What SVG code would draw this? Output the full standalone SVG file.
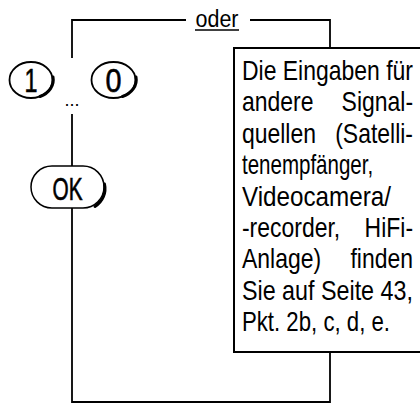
<svg xmlns="http://www.w3.org/2000/svg" width="420" height="405" viewBox="0 0 420 405">
<style>
.ln{fill:none;stroke:#000;stroke-width:1.8}
.t{font-family:"Liberation Sans",Arial,sans-serif;fill:#000}
.key{stroke:#000;stroke-width:0.6}
.box{font-size:28px}
.sh{fill:none;stroke:#000;stroke-width:3;stroke-linecap:round}
</style>
<rect width="420" height="405" fill="#fff"/>
<g id="connectors">
<path class="ln" d="M72,58 V20 H186"/>
<path class="ln" d="M250,20 H330 V48"/>
<path class="ln" d="M72,114 V166"/>
<path class="ln" d="M72,208 V402 H330 V352"/>
</g>
<g id="label-oder">
<text class="t" x="195.5" y="26.5" font-size="23" textLength="43" lengthAdjust="spacingAndGlyphs">oder</text>
<line x1="195" y1="30" x2="239" y2="30" stroke="#000" stroke-width="1.3"/>
</g>
<g id="key-1">
<ellipse class="ln" cx="31" cy="80" rx="21.5" ry="18" stroke-width="1.5"/>
<path class="sh" d="M40,96.5 A21.5,18 0 0 0 53,77"/>
<text class="t key" x="24.5" y="92" font-size="33" textLength="13" lengthAdjust="spacingAndGlyphs">1</text>
</g>
<g id="dots">
<text class="t" x="72" y="106" font-size="18" text-anchor="middle">...</text>
</g>
<g id="key-0">
<ellipse class="ln" cx="113.5" cy="80" rx="22" ry="18" stroke-width="1.5"/>
<path class="sh" d="M122.5,96.5 A22,18 0 0 0 136,77"/>
<text class="t key" x="105.5" y="92" font-size="33" textLength="16" lengthAdjust="spacingAndGlyphs">0</text>
</g>
<g id="key-ok">
<rect x="31" y="166" width="73" height="42" rx="21" ry="21" fill="none" stroke="#000" stroke-width="1.5"/>
<path class="sh" d="M95,206.5 A21,21 0 0 0 104.5,184"/>
<text class="t key" x="52.5" y="200" font-size="31" textLength="30" lengthAdjust="spacingAndGlyphs">OK</text>
</g>
<g id="note">
<rect x="234" y="48" width="200" height="304" fill="none" stroke="#000" stroke-width="2"/>
<g transform="scale(0.82,1)">
<text class="t box" x="295.1" y="80" textLength="208.5" lengthAdjust="spacingAndGlyphs">Die Eingaben für</text>
<text class="t box" x="295.1" y="111.4">andere</text>
<text class="t box" x="503.7" y="111.4" text-anchor="end">Signal-</text>
<text class="t box" x="295.1" y="142.8">quellen</text>
<text class="t box" x="503.7" y="142.8" text-anchor="end">(Satelli-</text>
<text class="t box" x="295.1" y="174.2" textLength="160" lengthAdjust="spacingAndGlyphs">tenempfänger,</text>
<text class="t box" x="295.1" y="205.6" textLength="181.7" lengthAdjust="spacingAndGlyphs">Videocamera/</text>
<text class="t box" x="295.1" y="237">-recorder,</text>
<text class="t box" x="503.7" y="237" text-anchor="end">HiFi-</text>
<text class="t box" x="295.1" y="268.4">Anlage)</text>
<text class="t box" x="503.7" y="268.4" text-anchor="end">finden</text>
<text class="t box" x="295.1" y="299.8" textLength="208.5" lengthAdjust="spacingAndGlyphs">Sie auf Seite 43,</text>
<text class="t box" x="295.1" y="331.2" textLength="180.5" lengthAdjust="spacingAndGlyphs">Pkt. 2b, c, d, e.</text>
</g>
</g>
</svg>
